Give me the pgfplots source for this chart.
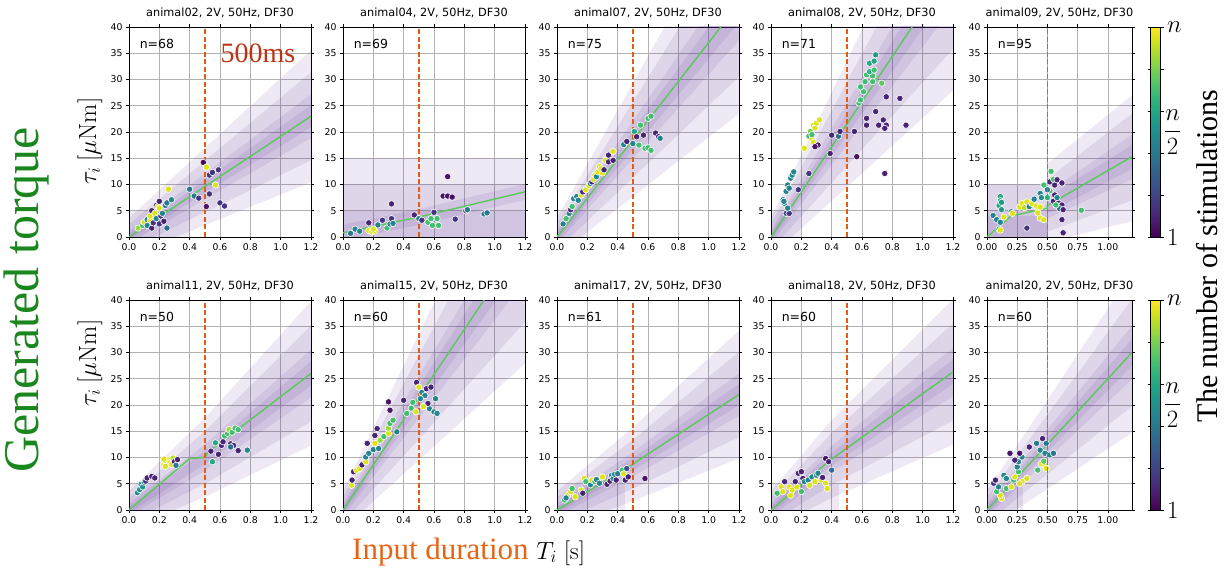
\documentclass[border=0pt]{standalone}
\usepackage[no-math]{fontspec}
\setmainfont{Liberation Serif}
\setsansfont{DejaVu Sans}
\usepackage{pgfplots}
\pgfplotsset{compat=1.18}
\usepackage{pgfplotstable}
\definecolor{bandc}{RGB}{84,39,143}
\definecolor{fitgreen}{RGB}{90,200,90}
\definecolor{vorange}{RGB}{228,92,18}
\definecolor{gtgreen}{RGB}{25,135,30}
\definecolor{inorange}{RGB}{230,100,20}
\definecolor{msred}{RGB}{190,50,20}

\tikzset{nlab/.style={anchor=west, font=\sffamily\fontsize{12.5}{14}\selectfont},
 vline/.style={draw=vorange, line width=1.8pt, dash pattern=on 5pt off 2.5pt}}
\pgfplotsset{
 panel/.style={width=182pt, height=210pt, scale only axis, anchor=south west,
  xmin=0, xmax=1.2, ymin=0, ymax=40,
  xtick={0,0.2,0.4,0.6,0.8,1.0,1.2}, ytick={0,5,10,15,20,25,30,35,40},
  grid=major, grid style={black!30, line width=0.6pt},
  axis line style={line width=0.8pt}, tick align=outside, major tick length=3pt,
  tick style={black, line width=0.6pt},
  x tick label style={/pgf/number format/.cd, fixed, fixed zerofill, precision=1},
  ticklabel style={font=\sffamily\fontsize{9.3}{10}\selectfont},
  /pgf/number format/assume math mode=true,
  title style={font=\sffamily\fontsize{11.3}{12}\selectfont},
  colormap/viridis, point meta min=0, point meta max=1},
 narrow/.style={width=145pt, xtick={0,0.25,0.5,0.75,1.0},
  x tick label style={/pgf/number format/.cd, fixed, fixed zerofill, precision=2}},
 band/.style={draw=none, fill=bandc, fill opacity=0.1, forget plot},
 fitline/.style={color=fitgreen, line width=1.4pt, forget plot},
 pts/.style={scatter, only marks, mark=*, mark size=3.2pt, line width=0.6pt, point meta=explicit,
  scatter/use mapped color={draw=white, fill=mapped color}, forget plot},
 cbaxis/.style={anchor=south west, width=145pt, height=210pt, scale only axis,
  xmin=0, xmax=1, ymin=0, ymax=1, axis lines=none, ticks=none,
  colormap/viridis, point meta min=0, point meta max=1,
  colorbar, colorbar style={at={(parent axis.north east)}, anchor=north west,
  xshift=10pt, width=10pt, height=210pt, scale only axis, axis lines=box,
  ytick={0,0.2,0.4,0.6,0.8,1}, yticklabels={$1$,{},{},{},{},$n$},
  extra y ticks={0.5}, extra y tick labels={$\displaystyle\frac{n}{2}$},
  extra y tick style={major tick length=0pt},
  tick align=outside, major tick length=3pt, tick style={black},
  yticklabel style={font=\fontsize{24}{26}\selectfont}}}
}

\pgfplotstableread{
x y c
0.06 1.7 0.85
0.09 2.2 0.70
0.10 2.8 0.95
0.12 2.2 0.45
0.12 3.3 0.45
0.14 3.2 0.95
0.14 4.0 0.95
0.15 5.0 0.10
0.15 1.7 0.10
0.16 2.7 0.15
0.17 4.5 0.95
0.18 3.5 0.45
0.18 6.0 0.10
0.19 5.8 0.95
0.20 6.8 0.10
0.20 5.5 0.95
0.20 2.5 0.15
0.21 4.0 0.15
0.22 4.5 0.45
0.23 3.0 0.10
0.24 6.0 0.45
0.25 1.7 0.35
0.25 6.5 0.40
0.26 9.1 0.95
0.28 7.1 0.45
0.40 9.1 0.40
0.43 7.8 0.40
0.46 7.4 0.15
0.49 14.2 0.02
0.51 13.3 0.95
0.53 11.8 0.15
0.55 12.3 0.15
0.59 12.8 0.15
0.57 9.9 0.95
0.53 8.2 0.15
0.51 5.8 0.05
0.60 6.5 0.15
0.63 5.9 0.15
}\tA
\pgfplotstableread{
x y c
0.05 0.7 0.40
0.08 1.5 0.45
0.11 1.1 0.45
0.17 1.2 0.95
0.19 1.0 0.95
0.21 1.1 0.95
0.20 1.5 0.95
0.17 2.7 0.10
0.23 2.3 0.45
0.26 3.2 0.15
0.29 1.7 0.70
0.31 2.5 0.45
0.32 6.3 0.10
0.32 3.5 0.15
0.33 2.6 0.45
0.47 4.2 0.10
0.50 3.5 0.45
0.52 3.2 0.15
0.56 2.8 0.70
0.59 2.2 0.70
0.60 4.7 0.15
0.62 3.5 0.70
0.58 3.5 0.70
0.63 2.2 0.70
0.69 11.5 0.05
0.66 7.8 0.05
0.69 7.8 0.05
0.72 7.6 0.05
0.74 3.4 0.15
0.81 5.0 0.25
0.82 5.2 0.40
0.93 4.4 0.40
0.95 4.6 0.40
}\tB
\pgfplotstableread{
x y c
0.04 2.5 0.45
0.06 3.5 0.70
0.08 4.5 0.45
0.09 5.2 0.10
0.10 5.8 0.70
0.11 7.3 0.45
0.13 7.7 0.45
0.14 7.0 0.45
0.16 8.0 0.95
0.17 8.6 0.10
0.19 9.0 0.95
0.21 9.8 0.95
0.22 10.2 0.45
0.23 10.5 0.10
0.24 11.0 0.95
0.25 11.8 0.95
0.26 11.5 0.45
0.27 12.4 0.95
0.28 13.4 0.95
0.29 13.0 0.95
0.30 12.2 0.95
0.31 12.8 0.10
0.32 14.6 0.95
0.34 15.6 0.10
0.34 14.3 0.10
0.37 16.3 0.95
0.37 14.6 0.10
0.44 17.6 0.45
0.46 18.2 0.10
0.50 17.8 0.45
0.51 20.1 0.60
0.525 19.1 0.10
0.54 17.5 0.70
0.55 21.3 0.70
0.57 19.4 0.10
0.58 16.9 0.70
0.60 17.0 0.70
0.60 22.6 0.70
0.62 23.0 0.70
0.62 16.5 0.70
0.65 19.8 0.10
0.67 19.1 0.10
0.68 18.8 0.45
}\tC
\pgfplotstableread{
x y c
0.08 7.1 0.45
0.09 6.4 0.45
0.085 6.8 0.45
0.10 4.5 0.25
0.12 4.5 0.15
0.11 5.5 0.45
0.10 8.7 0.45
0.11 9.9 0.45
0.12 9.3 0.45
0.13 11.2 0.45
0.14 11.8 0.45
0.15 12.4 0.45
0.18 9.0 0.15
0.25 12.1 0.15
0.22 16.9 0.95
0.25 19.2 0.70
0.26 20.1 0.80
0.27 18.6 0.95
0.28 18.0 0.95
0.28 21.3 0.95
0.29 20.8 0.95
0.30 21.7 0.95
0.32 22.3 0.95
0.27 19.5 0.70
0.31 17.5 0.05
0.29 17.2 0.05
0.39 15.9 0.10
0.40 19.4 0.10
0.445 19.2 0.35
0.455 20.1 0.10
0.55 20.1 0.10
0.565 15.3 0.05
0.58 25.5 0.70
0.59 26.1 0.70
0.61 27.7 0.70
0.59 28.6 0.70
0.62 29.6 0.70
0.67 29.6 0.70
0.73 29.3 0.75
0.63 30.9 0.70
0.67 30.7 0.70
0.65 31.5 0.65
0.68 31.8 0.70
0.65 33.1 0.60
0.68 33.5 0.60
0.69 34.7 0.55
0.76 26.7 0.10
0.85 26.4 0.10
0.69 23.9 0.10
0.63 22.6 0.10
0.63 21.3 0.10
0.71 21.3 0.10
0.74 22.3 0.10
0.76 21.3 0.10
0.75 20.7 0.10
0.89 21.3 0.10
0.75 12.1 0.10
}\tD
\pgfplotstableread{
x y c
0.11 7.7 0.60
0.11 6.9 0.60
0.10 6.0 0.60
0.12 6.6 0.55
0.12 5.2 0.55
0.05 4.1 0.45
0.08 3.3 0.45
0.11 2.8 0.45
0.10 1.5 0.50
0.11 1.3 0.95
0.14 3.8 0.95
0.20 4.8 0.45
0.21 4.5 0.95
0.27 5.7 0.95
0.29 6.4 0.95
0.31 5.6 0.90
0.33 6.7 0.95
0.35 5.8 0.45
0.37 6.4 0.95
0.41 5.9 0.95
0.44 5.7 0.95
0.44 3.6 0.95
0.47 3.3 0.95
0.42 4.6 0.95
0.33 1.7 0.15
0.44 8.3 0.45
0.39 7.2 0.45
0.47 9.9 0.70
0.45 7.5 0.50
0.52 10.5 0.10
0.53 12.5 0.70
0.55 11.0 0.70
0.56 9.9 0.10
0.58 10.9 0.10
0.62 10.3 0.10
0.52 8.8 0.70
0.50 7.5 0.65
0.56 8.0 0.10
0.55 6.8 0.10
0.59 6.5 0.10
0.62 6.1 0.10
0.60 5.4 0.40
0.63 5.2 0.10
0.62 3.3 0.10
0.63 0.8 0.10
0.57 6.1 0.70
0.78 5.1 0.70
0.58 7.5 0.45
0.50 9.0 0.40
}\tE
\pgfplotstableread{
x y c
0.055 3.3 0.50
0.07 3.9 0.50
0.08 4.9 0.50
0.09 4.4 0.50
0.10 5.3 0.45
0.11 5.5 0.15
0.12 6.1 0.10
0.15 6.4 0.10
0.17 6.1 0.10
0.23 8.6 0.95
0.24 9.3 0.95
0.24 8.3 0.95
0.26 9.5 0.95
0.27 9.0 0.95
0.28 8.7 0.95
0.29 9.9 0.90
0.23 9.7 0.95
0.30 9.2 0.05
0.32 9.6 0.10
0.31 8.5 0.40
0.54 11.2 0.10
0.57 12.8 0.60
0.59 10.6 0.10
0.55 9.2 0.60
0.61 12.3 0.10
0.62 13.0 0.10
0.63 14.1 0.70
0.65 14.6 0.70
0.66 15.3 0.85
0.68 14.8 0.70
0.70 15.6 0.70
0.72 15.3 0.70
0.67 12.6 0.10
0.69 12.3 0.15
0.72 11.3 0.10
0.67 12.0 0.35
0.78 11.4 0.45
}\tF
\pgfplotstableread{
x y c
0.057 4.7 0.95
0.06 5.7 0.10
0.07 7.3 0.10
0.09 7.6 0.95
0.11 7.9 0.95
0.125 8.6 0.10
0.15 9.2 0.95
0.15 10.1 0.45
0.17 10.8 0.45
0.16 12.7 0.10
0.21 12.7 0.95
0.20 11.5 0.45
0.235 11.7 0.45
0.21 14.2 0.10
0.225 15.5 0.10
0.245 13.3 0.85
0.27 14.0 0.70
0.30 14.6 0.95
0.30 15.6 0.85
0.31 16.5 0.70
0.33 17.1 0.70
0.355 14.9 0.45
0.30 20.6 0.05
0.31 19.0 0.05
0.40 20.9 0.10
0.42 18.4 0.70
0.45 19.4 0.70
0.46 20.5 0.70
0.48 18.7 0.95
0.485 24.3 0.10
0.50 23.4 0.95
0.52 22.4 0.45
0.54 21.8 0.45
0.51 21.2 0.45
0.55 23.1 0.10
0.58 23.4 0.10
0.61 21.2 0.45
0.57 19.3 0.45
0.60 18.7 0.45
0.62 18.4 0.45
0.56 20.3 0.10
0.53 19.7 0.95
}\tG
\pgfplotstableread{
x y c
0.05 1.9 0.70
0.07 2.8 0.95
0.06 2.3 0.45
0.09 3.5 0.95
0.10 4.1 0.70
0.12 2.5 0.95
0.16 3.8 0.95
0.17 3.2 0.10
0.18 6.0 0.95
0.19 5.4 0.70
0.22 4.8 0.45
0.23 5.7 0.95
0.25 5.4 0.70
0.26 5.8 0.45
0.28 5.1 0.45
0.30 6.3 0.95
0.33 4.9 0.10
0.35 5.5 0.10
0.36 6.6 0.45
0.37 6.0 0.45
0.38 6.8 0.45
0.39 5.7 0.10
0.40 6.9 0.45
0.43 7.6 0.70
0.44 6.9 0.95
0.45 5.7 0.10
0.46 7.9 0.25
0.47 6.3 0.10
0.58 6.0 0.05
}\tH
\pgfplotstableread{
x y c
0.04 3.2 0.70
0.067 4.4 0.95
0.078 3.5 0.95
0.09 5.4 0.10
0.12 4.4 0.95
0.13 2.8 0.95
0.14 3.8 0.95
0.17 4.4 0.95
0.16 5.4 0.10
0.18 7.0 0.10
0.20 7.3 0.10
0.21 6.0 0.10
0.22 5.4 0.45
0.245 5.7 0.45
0.27 6.3 0.45
0.30 6.6 0.45
0.31 7.0 0.45
0.29 5.4 0.95
0.255 4.7 0.95
0.33 5.7 0.95
0.36 5.1 0.95
0.37 4.1 0.95
0.36 9.8 0.05
0.38 9.2 0.10
0.40 7.6 0.35
0.34 6.2 0.10
0.20 3.5 0.70
}\tI
\pgfplotstableread{
x y c
0.12 2.2 0.95
0.11 2.8 0.95
0.08 3.5 0.70
0.095 4.4 0.45
0.055 5.1 0.15
0.07 5.7 0.10
0.14 6.6 0.45
0.16 6.0 0.45
0.16 4.1 0.70
0.20 4.4 0.95
0.22 5.7 0.70
0.23 6.3 0.95
0.26 7.3 0.70
0.25 8.2 0.45
0.26 9.2 0.45
0.29 10.1 0.45
0.19 10.8 0.05
0.27 10.8 0.05
0.23 9.5 0.10
0.29 5.4 0.95
0.33 6.0 0.95
0.27 5.0 0.95
0.35 12.0 0.10
0.41 12.7 0.40
0.44 11.4 0.45
0.46 13.6 0.10
0.49 12.7 0.40
0.48 10.8 0.45
0.52 10.5 0.45
0.55 10.8 0.40
0.45 8.8 0.95
0.48 8.5 0.95
0.47 9.3 0.75
0.49 7.9 0.95
0.42 7.6 0.70
}\tJ

\begin{document}
\begin{tikzpicture}
\useasboundingbox (0,0) rectangle (1225pt,571pt);

% ---------------- top row ----------------
\begin{axis}[panel, at={(129pt,334pt)}, title={animal02, 2V, 50Hz, DF30}]
\addplot[band] coordinates {(0,-0.6) (0.5,8.375) (1.2,20.9) (1.2,25.1) (0.5,10.825) (0,0.6)} -- cycle;
\addplot[band] coordinates {(0,-1.2) (0.5,7.15) (1.2,18.81) (1.2,27.19) (0.5,12.05) (0,1.2)} -- cycle;
\addplot[band] coordinates {(0,-2.4) (0.5,4.7) (1.2,14.62) (1.2,31.38) (0.5,14.5) (0,2.4)} -- cycle;
\addplot[band] coordinates {(0,-3.6) (0.5,2.25) (1.2,10.43) (1.2,35.57) (0.5,16.95) (0,3.6)} -- cycle;
\addplot[band] coordinates {(0,0) (0.4,0) (0.4,5) (0,5)} -- cycle;
\addplot[fitline] coordinates {(0,0) (0.5,9.6) (1.2,23)};
\addplot[vline, forget plot] coordinates {(0.5,0) (0.5,40)};
\addplot[pts] table[x=x,y=y,meta=c] {\tA};
\node[nlab] at (rel axis cs:0.04,0.92) {n=68};
\node[text=msred, font=\fontsize{28}{30}\selectfont] at (axis cs:0.85,35) {500ms};
\end{axis}

\begin{axis}[panel, at={(343pt,334pt)}, title={animal04, 2V, 50Hz, DF30}]
\addplot[band] coordinates {(0,-0.7) (0.5,2.3) (1.2,7.1) (1.2,10.1) (0.5,5.3) (0,2.3)} -- cycle;
\addplot[band] coordinates {(0,-1) (1.2,-1) (1.2,5) (0,5)} -- cycle;
\addplot[band] coordinates {(0,-1) (1.2,-1) (1.2,10) (0,10)} -- cycle;
\addplot[band] coordinates {(0,-1) (1.2,-1) (1.2,15) (0,15)} -- cycle;
\addplot[fitline] coordinates {(0,0.8) (0.5,3.8) (1.2,8.6)};
\addplot[vline, forget plot] coordinates {(0.5,0) (0.5,40)};
\addplot[pts] table[x=x,y=y,meta=c] {\tB};
\node[nlab] at (rel axis cs:0.04,0.92) {n=69};
\end{axis}

\begin{axis}[panel, at={(557pt,334pt)}, title={animal07, 2V, 50Hz, DF30}]
\addplot[band] coordinates {(0,-0.6) (0.5,16.7) (1.2,40.9) (1.2,47.9) (0.5,20.3) (0,0.6)} -- cycle;
\addplot[band] coordinates {(0,-1.2) (0.5,14.9) (1.2,37.4) (1.2,51.4) (0.5,22.1) (0,1.2)} -- cycle;
\addplot[band] coordinates {(0,-2.4) (0.5,11.3) (1.2,30.5) (1.2,58.3) (0.5,25.7) (0,2.4)} -- cycle;
\addplot[band] coordinates {(0,-3.6) (0.5,7.7) (1.2,23.5) (1.2,65.3) (0.5,29.3) (0,3.6)} -- cycle;
\addplot[band] coordinates {(0,0) (0.2,0) (0.2,5) (0,5)} -- cycle;
\addplot[fitline] coordinates {(0,0) (0.5,18.5) (1.08,40)};
\addplot[vline, forget plot] coordinates {(0.5,0) (0.5,40)};
\addplot[pts] table[x=x,y=y,meta=c] {\tC};
\node[nlab] at (rel axis cs:0.04,0.92) {n=75};
\end{axis}

\begin{axis}[panel, at={(771pt,334pt)}, title={animal08, 2V, 50Hz, DF30}]
\addplot[band] coordinates {(0,-0.6) (0.5,19.5) (1.2,47.65) (1.2,55.55) (0.5,23.5) (0,0.6)} -- cycle;
\addplot[band] coordinates {(0,-1.2) (0.5,17.5) (1.2,43.7) (1.2,59.5) (0.5,25.5) (0,1.2)} -- cycle;
\addplot[band] coordinates {(0,-2.4) (0.5,13.5) (1.2,35.8) (1.2,67.4) (0.5,29.5) (0,2.4)} -- cycle;
\addplot[band] coordinates {(0,-3.6) (0.5,9.5) (1.2,27.9) (1.2,75.3) (0.5,33.5) (0,3.6)} -- cycle;
\addplot[band] coordinates {(0,0) (0.2,0) (0.2,5) (0,5)} -- cycle;
\addplot[fitline] coordinates {(0,0) (0.5,21.5) (0.93,40)};
\addplot[vline, forget plot] coordinates {(0.5,0) (0.5,40)};
\addplot[pts] table[x=x,y=y,meta=c] {\tD};
\node[nlab] at (rel axis cs:0.04,0.92) {n=71};
\end{axis}

\begin{axis}[panel, narrow, at={(987pt,334pt)}, title={animal09, 2V, 50Hz, DF30}]
\addplot[band] coordinates {(0,-1) (0.5,-1) (0.5,4.5) (1.2,13) (1.2,17.5) (0.5,7.5) (0.5,4) (0,4)} -- cycle;
\addplot[band] coordinates {(0,-1) (0.5,-1) (0.5,3.5) (1.2,11) (1.2,19.5) (0.5,8.5) (0.5,5) (0,5)} -- cycle;
\addplot[band] coordinates {(0,-1) (0.5,-1) (0.5,1) (1.2,7) (1.2,23.5) (0.5,11) (0.5,10) (0,10)} -- cycle;
\addplot[band] coordinates {(0,-1) (0.5,-1) (1.2,3) (1.2,27) (0.5,14) (0.5,10) (0,10)} -- cycle;
\addplot[fitline] coordinates {(0,0) (0.2,4) (0.5,5.5) (0.5,6) (1.2,15.3)};
\addplot[vline, forget plot] coordinates {(0.5,0) (0.5,40)};
\addplot[pts] table[x=x,y=y,meta=c] {\tE};
\node[nlab] at (rel axis cs:0.05,0.92) {n=95};
\end{axis}
\begin{axis}[cbaxis, at={(987pt,334pt)}]
\end{axis}

% ---------------- bottom row ----------------
\begin{axis}[panel, at={(129pt,61pt)}, title={animal11, 2V, 50Hz, DF30}]
\addplot[band] coordinates {(0,-0.6) (0.5,8.75) (1.2,23.71) (1.2,28.29) (0.5,11.25) (0,0.6)} -- cycle;
\addplot[band] coordinates {(0,-1.2) (0.5,7.5) (1.2,21.42) (1.2,30.58) (0.5,12.5) (0,1.2)} -- cycle;
\addplot[band] coordinates {(0,-2.4) (0.5,5) (1.2,16.84) (1.2,35.16) (0.5,15) (0,2.4)} -- cycle;
\addplot[band] coordinates {(0,-3.6) (0.5,2.5) (1.2,12.26) (1.2,39.74) (0.5,17.5) (0,3.6)} -- cycle;
\addplot[band] coordinates {(0,0) (0.4,0) (0.4,5) (0,5)} -- cycle;
\addplot[fitline] coordinates {(0,0) (0.4,9.8) (0.5,10) (0.52,11) (1.2,26)};
\addplot[vline, forget plot] coordinates {(0.5,0) (0.5,40)};
\addplot[pts] table[x=x,y=y,meta=c] {\tF};
\node[nlab] at (rel axis cs:0.04,0.92) {n=50};
\end{axis}

\begin{axis}[panel, at={(343pt,61pt)}, title={animal15, 2V, 50Hz, DF30}]
\addplot[band] coordinates {(0,-0.6) (0.5,19.5) (1.2,47.65) (1.2,55.55) (0.5,23.5) (0,0.6)} -- cycle;
\addplot[band] coordinates {(0,-1.2) (0.5,17.5) (1.2,43.7) (1.2,59.5) (0.5,25.5) (0,1.2)} -- cycle;
\addplot[band] coordinates {(0,-2.4) (0.5,13.5) (1.2,35.8) (1.2,67.4) (0.5,29.5) (0,2.4)} -- cycle;
\addplot[band] coordinates {(0,-3.6) (0.5,9.5) (1.2,27.9) (1.2,75.3) (0.5,33.5) (0,3.6)} -- cycle;
\addplot[band] coordinates {(0,0) (0.2,0) (0.2,5) (0,5)} -- cycle;
\addplot[fitline] coordinates {(0,0) (0.5,21.5) (0.93,40)};
\addplot[vline, forget plot] coordinates {(0.5,0) (0.5,40)};
\addplot[pts] table[x=x,y=y,meta=c] {\tG};
\node[nlab] at (rel axis cs:0.04,0.92) {n=60};
\end{axis}

\begin{axis}[panel, at={(557pt,61pt)}, title={animal17, 2V, 50Hz, DF30}]
\addplot[band] coordinates {(0,-0.6) (0.5,7.535) (1.2,19.97) (1.2,24.03) (0.5,9.865) (0,0.6)} -- cycle;
\addplot[band] coordinates {(0,-1.2) (0.5,6.37) (1.2,17.94) (1.2,26.06) (0.5,11.03) (0,1.2)} -- cycle;
\addplot[band] coordinates {(0,-2.4) (0.5,4.04) (1.2,13.88) (1.2,30.12) (0.5,13.36) (0,2.4)} -- cycle;
\addplot[band] coordinates {(0,-3.6) (0.5,1.71) (1.2,9.82) (1.2,34.18) (0.5,15.69) (0,3.6)} -- cycle;
\addplot[band] coordinates {(0,0) (0.45,0) (0.45,5) (0,5)} -- cycle;
\addplot[fitline] coordinates {(0,0) (0.5,8.7) (0.56,9.9) (1.2,22)};
\addplot[vline, forget plot] coordinates {(0.5,0) (0.5,40)};
\addplot[pts] table[x=x,y=y,meta=c] {\tH};
\node[nlab] at (rel axis cs:0.04,0.92) {n=61};
\end{axis}

\begin{axis}[panel, at={(771pt,61pt)}, title={animal18, 2V, 50Hz, DF30}]
\addplot[band] coordinates {(0,-0.6) (0.39,8.28) (1.2,23.99) (1.2,28.61) (0.39,10.72) (0,0.6)} -- cycle;
\addplot[band] coordinates {(0,-1.2) (0.39,7.06) (1.2,21.68) (1.2,30.92) (0.39,11.94) (0,1.2)} -- cycle;
\addplot[band] coordinates {(0,-2.4) (0.39,4.62) (1.2,17.06) (1.2,35.54) (0.39,14.38) (0,2.4)} -- cycle;
\addplot[band] coordinates {(0,-3.6) (0.39,2.18) (1.2,12.44) (1.2,40.16) (0.39,16.82) (0,3.6)} -- cycle;
\addplot[band] coordinates {(0,0) (0.45,0) (0.45,5) (0,5)} -- cycle;
\addplot[fitline] coordinates {(0,0) (0.39,9.5) (1.2,26.3)};
\addplot[vline, forget plot] coordinates {(0.5,0) (0.5,40)};
\addplot[pts] table[x=x,y=y,meta=c] {\tI};
\node[nlab] at (rel axis cs:0.04,0.92) {n=60};
\end{axis}

\begin{axis}[panel, narrow, at={(987pt,61pt)}, title={animal20, 2V, 50Hz, DF30}]
\addplot[band] coordinates {(0,-0.6) (0.5,11.085) (1.2,27.45) (1.2,32.55) (0.5,13.915) (0,0.6)} -- cycle;
\addplot[band] coordinates {(0,-1.2) (0.5,9.67) (1.2,24.9) (1.2,35.1) (0.5,15.33) (0,1.2)} -- cycle;
\addplot[band] coordinates {(0,-2.4) (0.5,6.84) (1.2,19.8) (1.2,40.2) (0.5,18.16) (0,2.4)} -- cycle;
\addplot[band] coordinates {(0,-3.6) (0.5,4.01) (1.2,14.7) (1.2,45.3) (0.5,20.99) (0,3.6)} -- cycle;
\addplot[band] coordinates {(0,0) (0.3,0) (0.3,5) (0,5)} -- cycle;
\addplot[fitline] coordinates {(0,0) (0.5,12.5) (1.2,30)};
\addplot[vline, forget plot] coordinates {(0.5,0) (0.5,40)};
\addplot[pts] table[x=x,y=y,meta=c] {\tJ};
\node[nlab] at (rel axis cs:0.05,0.92) {n=60};
\end{axis}
\begin{axis}[cbaxis, at={(987pt,61pt)}]
\end{axis}

% reference lines at T = 0.5 s of the two narrow panels, drawn on top of everything
\draw[vline] (1047.42pt,334.4pt) -- (1047.42pt,543.6pt);
\draw[vline] (1047.42pt,61.4pt) -- (1047.42pt,270.6pt);

% ---------------- outer labels ----------------
\node[rotate=90, text=gtgreen, font=\fontsize{50}{54}\selectfont] at (26pt,271pt) {Generated torque};
\node[rotate=90, font=\fontsize{25}{27}\selectfont] at (90pt,430pt) {$\tau_i\ [\mu\mathrm{Nm}]$};
\node[rotate=90, font=\fontsize{25}{27}\selectfont] at (90pt,208pt) {$\tau_i\ [\mu\mathrm{Nm}]$};
\node[anchor=base west, inner sep=0pt] at (352pt,12pt) {\fontsize{31}{33}\selectfont\textcolor{inorange}{Input duration}\ {\fontsize{27}{29}\selectfont$T_i\ [\mathrm{s}]$}};
\node[rotate=90, font=\fontsize{30}{32}\selectfont] at (1207pt,315pt) {The number of stimulations};
\end{tikzpicture}
\end{document}
